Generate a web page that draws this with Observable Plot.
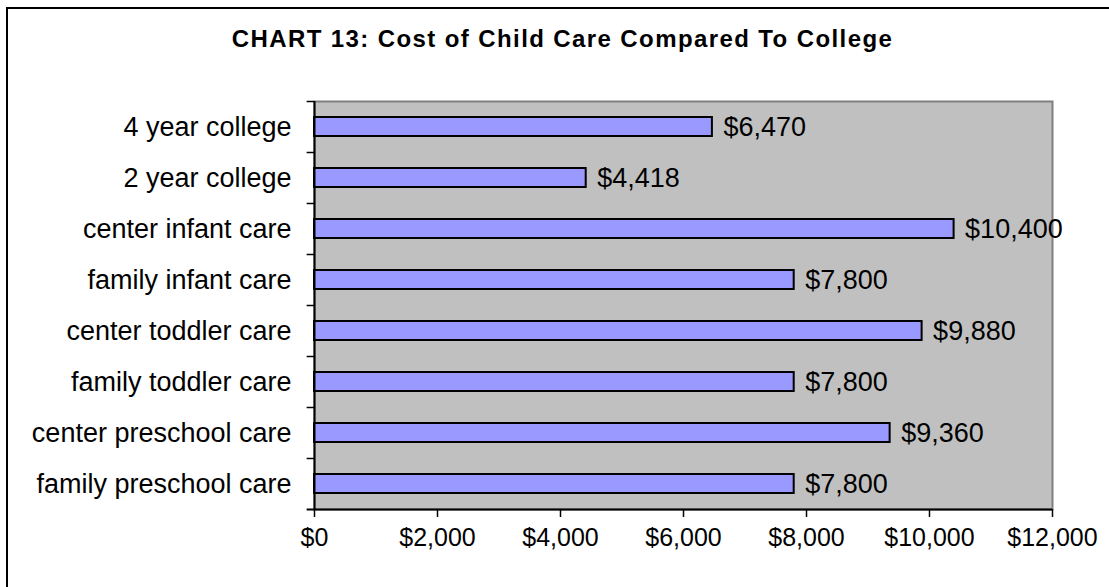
<!DOCTYPE html>
<html>
<head>
<meta charset="utf-8">
<script src="https://cdn.jsdelivr.net/npm/d3@7"></script>
<script src="https://cdn.jsdelivr.net/npm/@observablehq/plot@0.6"></script>
<style>
  html, body { margin: 0; padding: 0; background: #fff; overflow: hidden; }
  body { width: 1109px; height: 587px; position: relative; font-family: "Liberation Sans", Arial, sans-serif; }
  #border { position: absolute; left: 6px; top: 7px; width: 1200px; height: 700px; border-left: 2px solid #000; border-top: 2px solid #000; }
  #title { position: absolute; left: 8px; width: 1109px; top: 26px; text-align: center; font-weight: bold; font-size: 24px; letter-spacing: 1.4px; line-height: 26px; color: #000; }
  #chart { position: absolute; left: 0; top: 0; }
</style>
</head>
<body>
<div id="border"></div>
<div id="title">CHART 13: Cost of Child Care Compared To College</div>
<div id="chart"></div>
<script>
const categories = [
  "4 year college",
  "2 year college",
  "center infant care",
  "family infant care",
  "center toddler care",
  "family toddler care",
  "center preschool care",
  "family preschool care"
];
const costs = [6470, 4418, 10400, 7800, 9880, 7800, 9360, 7800];
const xTicks = [0, 2000, 4000, 6000, 8000, 10000, 12000];

const data = categories.map((c, i) => ({category: c, cost: costs[i]}));
const fmt = d => "$" + d3.format(",")(d);

const W = 1109, H = 587;
const mTop = 101, mBottom = 78;
const step = (H - mTop - mBottom) / categories.length;
const half = step / 2;
const lastCat = categories[categories.length - 1];
const tickLen = 120; // in data units (~7px) for outside ticks

const chart = Plot.plot({
  width: W,
  height: H,
  marginLeft: 314,
  marginRight: 57,
  marginTop: mTop,
  marginBottom: mBottom,
  style: {fontFamily: "'Liberation Sans', Arial, sans-serif", fontSize: "25px", color: "#000", background: "transparent", overflow: "visible"},
  x: {domain: [0, 12000], ticks: xTicks, label: null},
  y: {domain: categories, paddingInner: 0.62, paddingOuter: 0.31, label: null},
  marks: [
    Plot.frame({fill: "#c0c0c0", stroke: "#808080", strokeWidth: 2}),
    Plot.barX(data, {y: "category", x: "cost", fill: "#9999ff", stroke: "#000", strokeWidth: 2}),
    Plot.text(data, {y: "category", x: "cost", text: d => fmt(d.cost), textAnchor: "start", dx: 11, fontSize: 27, fill: "#000", style: "letter-spacing:0.3px"}),
    // left axis line
    Plot.ruleX([0], {stroke: "#000", strokeWidth: 2}),
    // category boundary ticks
    Plot.ruleY(categories, {y: d => d, x1: -tickLen, x2: 0, dy: -half, stroke: "#000", strokeWidth: 1.5}),
    // bottom axis line + bottom boundary tick
    Plot.ruleY([lastCat], {y: d => d, x1: -tickLen, x2: 12000, dy: half, stroke: "#000", strokeWidth: 2}),
    Plot.axisY({tickSize: 0, tickPadding: 23, fontSize: 27, label: null, style: "letter-spacing:0.6px"}),
    Plot.axisX({ticks: xTicks, tickFormat: fmt, tickSize: 8, tickPadding: 11, fontSize: 25, label: null, stroke: "#000", strokeWidth: 1.5, style: "letter-spacing:0.4px"})
  ]
});
document.getElementById("chart").appendChild(chart);
</script>
</body>
</html>
